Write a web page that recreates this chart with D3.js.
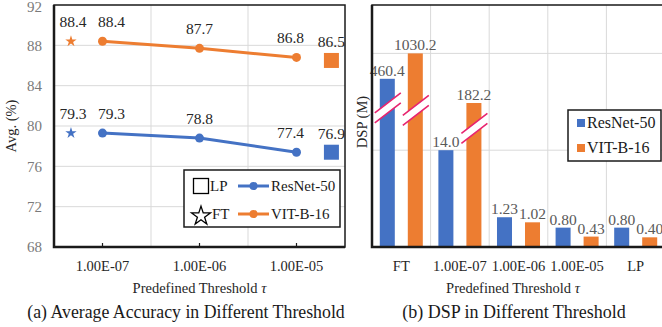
<!DOCTYPE html>
<html>
<head>
<meta charset="utf-8">
<script src="https://cdn.jsdelivr.net/npm/d3@7/dist/d3.min.js"></script>
<style>
  html, body { margin: 0; padding: 0; background: #fff; }
  svg { display: block; font-family: "Liberation Serif", "Times New Roman", serif; }
</style>
</head>
<body>
<svg id="chart" width="662" height="327"></svg>
<script>
"use strict";
// (a) accuracy per threshold
const thresholds = ["1.00E-07", "1.00E-06", "1.00E-05"];
const accResNet = [79.3, 78.8, 77.4];
const accVit = [88.4, 87.7, 86.8];
const ftAcc = [79.3, 88.4];          // [ResNet-50, VIT-B-16]
const lpAcc = [76.9, 86.5];          // labelled values
const lpMarkerAcc = [77.4, 86.5];    // where the LP squares sit in the picture
const accTicks = [68, 72, 76, 80, 84, 88, 92];

// (b) DSP per setting, broken axis: real values as labels, drawn heights on the cut axis
const dspCats = ["FT", "1.00E-07", "1.00E-06", "1.00E-05", "LP"];
const dspResNet = [460.4, 14.0, 1.23, 0.80, 0.80];
const dspVit = [1030.2, 182.2, 1.02, 0.43, 0.40];
const dspResNetShown = [6.95, 4.0, 1.23, 0.80, 0.80];
const dspVitShown = [8.0, 5.95, 1.02, 0.43, 0.40];
const dspResNetBreak = [5.75, null, null, null, null];
const dspVitBreak = [5.65, 4.9, null, null, null];
const dspLabelsResNet = ["460.4", "14.0", "1.23", "0.80", "0.80"];
const dspLabelsVit = ["1030.2", "182.2", "1.02", "0.43", "0.40"];
const dspGrid = [4, 8];

const BLUE = "#4472C4", ORANGE = "#ED7D31", GRID = "#d9d9d9", AXIS = "#1a1a1a";
const svg = d3.select("#chart");

/* ---------- (a) line chart ---------- */
(function () {
  const L = 54, R = 345, T = 5, B = 247;
  const slot = d3.scaleOrdinal().domain(["FT", ...thresholds, "LP"]).range([0.675, 1, 2, 3, 3.36]);
  const labelNudge = d3.scaleOrdinal().domain(thresholds).range([9, 0, -6]); // data labels sit off-centre
  const x = d3.scaleLinear().domain([0.5, 3.5]).range([L, R]);
  const y = d3.scaleLinear().domain([68, 92]).range([B, T]);
  const g = svg.append("g");

  g.selectAll("line.hg").data(accTicks.slice(1, -1)).join("line")
    .attr("x1", L).attr("x2", R).attr("y1", (d) => y(d)).attr("y2", (d) => y(d))
    .attr("stroke", GRID).attr("stroke-width", 1);
  g.selectAll("line.vg").data([1.5, 2.5]).join("line")
    .attr("x1", (d) => x(d)).attr("x2", (d) => x(d)).attr("y1", T).attr("y2", B)
    .attr("stroke", GRID).attr("stroke-width", 1);

  g.append("rect").attr("x", L).attr("y", T).attr("width", R - L).attr("height", B - T)
    .attr("fill", "none").attr("stroke", AXIS).attr("stroke-width", 1.5);
  g.append("path").attr("d", `M${L},${T}V${B}H${R}`).attr("fill", "none")
    .attr("stroke", AXIS).attr("stroke-width", 2.5);

  // inner ticks on the category axis
  g.selectAll("line.tk").data(thresholds).join("line")
    .attr("x1", (d) => x(slot(d))).attr("x2", (d) => x(slot(d)))
    .attr("y1", B).attr("y2", B - 4).attr("stroke", AXIS).attr("stroke-width", 1.2);

  g.selectAll("text.yt").data(accTicks).join("text")
    .attr("x", 42).attr("y", (d) => Math.max(y(d), 6.5)).attr("dy", "0.35em").attr("text-anchor", "end")
    .attr("font-size", 15).attr("fill", "#7a7a7a").text((d) => d);
  g.selectAll("text.xt").data(thresholds).join("text")
    .attr("x", (d) => x(slot(d))).attr("y", 271).attr("text-anchor", "middle")
    .attr("font-size", 14.5).attr("fill", "#262626").text((d) => d);

  g.append("text").attr("transform", `translate(16,${(T + B) / 2}) rotate(-90)`)
    .attr("text-anchor", "middle").attr("font-size", 14.5).attr("fill", "#262626").text("Avg. (%)");
  const xt = g.append("text").attr("x", (L + R) / 2).attr("y", 293).attr("text-anchor", "middle")
    .attr("font-size", 14.5).attr("fill", "#262626");
  xt.append("tspan").text("Predefined Threshold ");
  xt.append("tspan").attr("font-style", "italic").text("τ");
  g.append("text").attr("x", 186).attr("y", 318).attr("text-anchor", "middle")
    .attr("font-size", 17.8).attr("fill", "#1a1a1a").text("(a) Average Accuracy in Different Threshold");

  const line = d3.line().x((d, i) => x(slot(thresholds[i]))).y((d) => y(d));
  [[accResNet, BLUE], [accVit, ORANGE]].forEach(([vals, col]) => {
    g.append("path").datum(vals).attr("d", line).attr("fill", "none")
      .attr("stroke", col).attr("stroke-width", 3);
    g.selectAll(null).data(vals).join("circle")
      .attr("cx", (d, i) => x(slot(thresholds[i]))).attr("cy", (d) => y(d)).attr("r", 4.5).attr("fill", col);
    g.selectAll(null).data(vals).join("text")
      .attr("x", (d, i) => x(slot(thresholds[i])) + labelNudge(thresholds[i])).attr("y", (d) => y(d) - 14)
      .attr("text-anchor", "middle").attr("font-size", 15.5).attr("fill", "#262626").text((d) => d.toFixed(1));
  });

  const cols = [BLUE, ORANGE];
  const star = d3.symbol().type(d3.symbolStar).size(40);
  g.selectAll(null).data(ftAcc).join("path").attr("d", star)
    .attr("transform", (d) => `translate(${x(slot("FT"))},${y(d)})`).attr("fill", (d, i) => cols[i]);
  g.selectAll(null).data(ftAcc).join("text")
    .attr("x", x(slot("FT")) + 2).attr("y", (d) => y(d) - 14).attr("text-anchor", "middle")
    .attr("font-size", 15.5).attr("fill", "#262626").text((d) => d.toFixed(1));
  g.selectAll(null).data(lpMarkerAcc).join("rect")
    .attr("x", x(slot("LP")) - 7.5).attr("y", (d) => y(d) - 7.5).attr("width", 15).attr("height", 15)
    .attr("fill", (d, i) => cols[i]);
  g.selectAll(null).data(lpAcc).join("text")
    .attr("x", x(slot("LP"))).attr("y", (d, i) => y(lpMarkerAcc[i]) - 13).attr("text-anchor", "middle")
    .attr("font-size", 15.5).attr("fill", "#262626").text((d) => d.toFixed(1));

  // legend
  const lg = g.append("g");
  lg.append("rect").attr("x", 184).attr("y", 170).attr("width", 156).attr("height", 57)
    .attr("fill", "#fff").attr("stroke", AXIS).attr("stroke-width", 1.5);
  lg.append("rect").attr("x", 193.5).attr("y", 178.5).attr("width", 15).attr("height", 15)
    .attr("fill", "none").attr("stroke", "#000").attr("stroke-width", 1.3);
  lg.append("path").attr("d", d3.symbol().type(d3.symbolStar).size(110))
    .attr("transform", "translate(201,216)").attr("fill", "none").attr("stroke", "#000").attr("stroke-width", 1.3);
  lg.append("text").attr("x", 210).attr("y", 191).attr("font-size", 15).attr("fill", "#1a1a1a").text("LP");
  lg.append("text").attr("x", 212).attr("y", 219).attr("font-size", 15).attr("fill", "#1a1a1a").text("FT");
  [["ResNet-50", BLUE, 186], ["VIT-B-16", ORANGE, 214]].forEach(([name, col, cy]) => {
    lg.append("line").attr("x1", 238).attr("x2", 269).attr("y1", cy).attr("y2", cy)
      .attr("stroke", col).attr("stroke-width", 3);
    lg.append("circle").attr("cx", 253.5).attr("cy", cy).attr("r", 4).attr("fill", col);
    lg.append("text").attr("x", 271).attr("y", cy + 5).attr("font-size", 15).attr("fill", "#1a1a1a").text(name);
  });
})();

/* ---------- (b) bar chart with cut bars ---------- */
(function () {
  const L = 372, R = 665, T = 5, B = 247;
  const x = d3.scaleBand().domain(dspCats).range([L, R]);
  const xs = d3.scaleBand().domain(["ResNet-50", "VIT-B-16"]).range([0, x.bandwidth()])
    .paddingInner(0.464).paddingOuter(0.278);
  const y = d3.scaleLinear().domain([0, 10]).range([B, T]);
  const g = svg.append("g");

  g.selectAll(null).data(dspGrid).join("line")
    .attr("x1", L).attr("x2", R).attr("y1", (d) => y(d)).attr("y2", (d) => y(d))
    .attr("stroke", GRID).attr("stroke-width", 1);
  g.selectAll(null).data(dspCats.slice(1)).join("line")
    .attr("x1", (d) => x(d)).attr("x2", (d) => x(d)).attr("y1", T).attr("y2", B)
    .attr("stroke", GRID).attr("stroke-width", 1);
  g.append("rect").attr("x", L).attr("y", T).attr("width", R - L).attr("height", B - T)
    .attr("fill", "none").attr("stroke", AXIS).attr("stroke-width", 1.5);

  const series = [
    { key: "ResNet-50", col: BLUE, shown: dspResNetShown, labels: dspLabelsResNet, brk: dspResNetBreak, raw: dspResNet },
    { key: "VIT-B-16", col: ORANGE, shown: dspVitShown, labels: dspLabelsVit, brk: dspVitBreak, raw: dspVit },
  ];
  series.forEach((s) => {
    const bx = (i) => x(dspCats[i]) + xs(s.key);
    g.selectAll(null).data(s.shown).join("rect")
      .attr("x", (d, i) => bx(i)).attr("y", (d) => y(d))
      .attr("width", xs.bandwidth()).attr("height", (d) => B - y(d)).attr("fill", s.col);
    g.selectAll(null).data(s.labels).join("text")
      .attr("x", (d, i) => bx(i) + xs.bandwidth() / 2).attr("y", (d, i) => y(s.shown[i]) - 3)
      .attr("text-anchor", "middle").attr("font-size", 15.5).attr("fill", "#595959").text((d) => d);
    // break marks
    s.brk.forEach((v, i) => {
      if (v == null) return;
      const cx = bx(i) + xs.bandwidth() / 2 + 0.5, cy = y(v);
      const bk = g.append("g").attr("transform", `translate(${cx},${cy})`);
      bk.append("path").attr("d", "M-13,5L13,-15L13,-5L-13,15Z").attr("fill", "#fff");
      bk.append("path").attr("d", "M-13,5L13,-15M-13,15L13,-5").attr("fill", "none")
        .attr("stroke", "#e8246f").attr("stroke-width", 1.6);
    });
  });

  g.append("path").attr("d", `M${L},${T}V${B}H${R}`).attr("fill", "none")
    .attr("stroke", AXIS).attr("stroke-width", 2.5);

  g.selectAll(null).data(dspCats).join("text")
    .attr("x", (d) => x(d) + x.bandwidth() / 2).attr("y", 271).attr("text-anchor", "middle")
    .attr("font-size", 14.5).attr("fill", "#262626").text((d) => d);
  g.append("text").attr("transform", `translate(367,122) rotate(-90)`)
    .attr("text-anchor", "middle").attr("font-size", 14.5).attr("fill", "#262626").text("DSP (M)");
  const xt = g.append("text").attr("x", 513).attr("y", 293).attr("text-anchor", "middle")
    .attr("font-size", 14.5).attr("fill", "#262626");
  xt.append("tspan").text("Predefined Threshold ");
  xt.append("tspan").attr("font-style", "italic").text("τ");
  g.append("text").attr("x", 514).attr("y", 318).attr("text-anchor", "middle")
    .attr("font-size", 18).attr("fill", "#1a1a1a").text("(b) DSP in Different Threshold");

  const lg = g.append("g");
  lg.append("rect").attr("x", 568).attr("y", 110).attr("width", 93).attr("height", 51)
    .attr("fill", "#fff").attr("stroke", AXIS).attr("stroke-width", 1.5);
  series.forEach((s, i) => {
    const cy = 123 + i * 25;
    lg.append("rect").attr("x", 577).attr("y", cy - 4).attr("width", 8).attr("height", 8).attr("fill", s.col);
    lg.append("text").attr("x", 587).attr("y", cy + 5).attr("font-size", 16).attr("fill", "#1a1a1a").text(s.key);
  });
})();
</script>
</body>
</html>
